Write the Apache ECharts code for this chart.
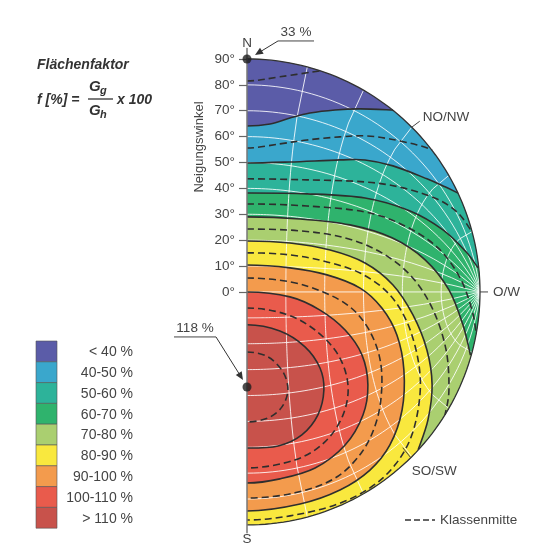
<!DOCTYPE html>
<html>
<head>
<meta charset="utf-8">
<script src="https://cdn.jsdelivr.net/npm/echarts@6/dist/echarts.min.js"></script>
<style>html,body{margin:0;padding:0;background:#fff}#main{width:540px;height:547px}</style>
</head>
<body>
<div id="main"></div>
<script>
var tiltTicks = [0, 10, 20, 30, 40, 50, 60, 70, 80, 90];
var bandLabels = ['< 40 %', '40-50 %', '50-60 %', '60-70 %', '70-80 %', '80-90 %', '90-100 %', '100-110 %', '> 110 %'];
var bandColors = ['#5b5ca8', '#3aa7cc', '#2db39a', '#2fb36d', '#aacf70', '#f9e83e', '#f39b4d', '#e95b4c', '#c8524b'];

// contour lines, [towards O/W, towards N (+) / S (-)] in degrees of tilt
var dash35 = [[0, 81.5], [12.7, 83.1], [28.2, 85.4]];
var line40 = [[0, 64.1], [8.9, 64.9], [16.6, 67.2], [24.3, 69.1], [34.0, 70.3], [43.7, 70.7], [56.4, 70.3]];
var dash45 = [[0, 55.6], [12.7, 57.2], [23.2, 58.7], [35.9, 59.9], [45.6, 60.3], [55.2, 59.1], [65.7, 56.8], [71.5, 54.9]];
var line50 = [[0, 49.8], [16.6, 50.2], [35.9, 51.0], [45.6, 51.0], [56.4, 48.7], [69.5, 43.7], [76.5, 40.6], [81.5, 38.2]];
var dash55 = [[0, 43.7], [23.2, 43.3], [45.6, 42.5], [60.3, 40.2], [73.4, 35.9], [81.5, 30.5], [86.9, 23.2]];
var line60 = [[0, 38.2], [23.2, 37.9], [45.6, 36.3], [63.0, 31.3], [75.7, 24.0], [84.6, 15.5], [89.2, 9.3]];
var dash65 = [[0, 34.0], [23.2, 33.2], [45.6, 30.9], [61.0, 25.5], [73.8, 17.0], [82.3, 5.4], [86.9, -7.0], [88.5, -15.8]];
var line70 = [[0, 29.0], [20.5, 28.2], [39.8, 25.9], [56.0, 20.9], [68.8, 12.4], [78.0, 0.8], [83.4, -12.7], [86.3, -24.4]];
var dash75 = [[0, 24.3], [20.5, 23.6], [37.9, 20.9], [52.1, 15.1], [63.7, 5.8], [71.9, -7.0], [76.9, -22.4], [78.0, -37.9], [76.5, -47.5]];
var line80 = [[0, 19.7], [16.6, 18.9], [32.1, 16.2], [45.6, 11.2], [56.4, 2.7], [64.1, -8.9], [69.5, -22.4], [71.5, -35.9], [69.9, -49.4], [66.1, -61.0]];
var dash85 = [[0, 15.1], [16.6, 14.3], [30.9, 11.6], [43.7, 7.3], [54.5, -0.4], [61.8, -11.6], [66.1, -26.3], [66.8, -39.8], [63.7, -55.2], [57.2, -66.8], [47.5, -75.7], [34.0, -82.3], [16.6, -86.5], [0, -88.1]];
var line90 = [[0, 10.4], [16.6, 9.3], [30.9, 6.6], [43.7, 1.5], [52.1, -6.2], [57.9, -16.6], [60.6, -30.1], [59.9, -45.6], [55.2, -59.1], [47.5, -68.8], [35.9, -76.5], [20.5, -81.9], [0, -84.6]];
var dash95 = [[0, 5.4], [16.6, 3.9], [29.4, 0], [39.8, -5.8], [46.7, -13.9], [51.0, -24.3], [52.1, -35.9], [50.2, -49.4], [44.4, -61.8], [34.0, -71.9], [18.5, -77.6], [0, -79.6]];
var line100 = [[0, 0], [16.6, -1.9], [28.2, -7.0], [37.9, -14.7], [44.4, -24.3], [46.7, -35.9], [44.8, -47.5], [37.9, -59.1], [26.3, -68.0], [12.7, -72.2], [0, -73.8]];
var dash105 = [[0, -6.2], [14.7, -8.5], [26.3, -14.7], [35.2, -24.3], [39.0, -35.9], [37.1, -47.5], [30.1, -57.9], [18.5, -64.9], [0, -68.0]];
var line110 = [[0, -12.7], [12.7, -15.1], [22.4, -21.2], [28.2, -29.4], [29.7, -37.9], [27.4, -47.5], [21.2, -55.2], [12.0, -59.5], [0, -60.3]];
var dash115 = [[0, -23.2], [8.1, -25.1], [13.9, -30.9], [15.8, -37.9], [13.5, -44.4], [8.1, -48.7], [0, -50.2]];

var solidLines = [line40, line50, line60, line70, line80, line90, line100, line110];
var dashedLines = [dash35, dash45, dash55, dash65, dash75, dash85, dash95, dash105, dash115];

var peakPoints = [[0, 90], [0, -36.7]];
var peakLabels = ['33 %', '118 %'];

var compassNames = ['N', 'NO/NW', 'O/W', 'SO/SW', 'S'];
var compassAzimuths = [0, 45, 90, 135, 180];

// white net: lines from the tilt ticks meeting at O/W, and circles round O/W
var meridianTilts = [10, 20, 30, 40, 50, 60, 70, 80];
var parallelAzimuths = [15, 30, 45, 60, 75];

var FONT = '"Liberation Sans", Arial, sans-serif';
var D = Math.PI / 180;
var chart = echarts.init(document.getElementById('main'));

function center(api) { return api.coord([0, 0]); }
function radius(api) { return api.coord([90, 0])[0] - api.coord([0, 0])[0]; }

function arcTo(api, a0, a1) {
  var c = center(api), r = radius(api), d = '';
  var n = Math.max(2, Math.ceil(Math.abs(a1 - a0) / (1.5 * D)));
  for (var i = 0; i <= n; i++) {
    var a = a0 + (a1 - a0) * i / n;
    d += 'L' + (c[0] + r * Math.cos(a)).toFixed(2) + ' ' + (c[1] + r * Math.sin(a)).toFixed(2);
  }
  return d;
}

function curvePath(pts, api) {
  var P = pts.map(function (p) { return api.coord(p); });
  var n = P.length;
  var d = 'M' + P[0][0].toFixed(2) + ' ' + P[0][1].toFixed(2);
  for (var i = 0; i < n - 1; i++) {
    var a = i > 0 ? P[i - 1] : (pts[0][0] === 0 ? [2 * P[0][0] - P[1][0], P[1][1]] : P[0]);
    var b = P[i], c = P[i + 1];
    var e = i < n - 2 ? P[i + 2] : (pts[n - 1][0] === 0 ? [2 * P[n - 1][0] - P[n - 2][0], P[n - 2][1]] : P[n - 1]);
    d += 'C' + (b[0] + (c[0] - a[0]) / 6).toFixed(2) + ' ' + (b[1] + (c[1] - a[1]) / 6).toFixed(2) + ' ' +
      (c[0] - (e[0] - b[0]) / 6).toFixed(2) + ' ' + (c[1] - (e[1] - b[1]) / 6).toFixed(2) + ' ' +
      c[0].toFixed(2) + ' ' + c[1].toFixed(2);
  }
  return d;
}

function discItem(params, api) {
  var c = center(api), r = radius(api);
  var d = 'M' + c[0] + ' ' + (c[1] - r) + arcTo(api, -Math.PI / 2, Math.PI / 2);
  if (api.value(2) === 0) {
    return { type: 'path', shape: { pathData: d + 'Z' }, style: { fill: bandColors[0] } };
  }
  return { type: 'path', shape: { pathData: d }, style: { fill: 'none', stroke: '#333', lineWidth: 1.3 } };
}

function bandItem(params, api) {
  var i = api.value(2);
  var pts = solidLines[i];
  var d = curvePath(pts, api);
  var last = pts[pts.length - 1];
  if (last[0] > 0) {
    var c = center(api), p = api.coord(last);
    d += arcTo(api, Math.atan2(p[1] - c[1], p[0] - c[0]), Math.PI / 2);
  }
  return { type: 'path', shape: { pathData: d + 'Z' }, style: { fill: bandColors[i + 1] } };
}

function lineItem(params, api) {
  var dashed = api.value(3) === 1;
  var pts = dashed ? dashedLines[api.value(2)] : solidLines[api.value(2)];
  return {
    type: 'path', shape: { pathData: curvePath(pts, api) },
    style: { fill: 'none', stroke: '#2e2e2e', lineWidth: 1.6, lineDash: dashed ? [7, 4] : null }
  };
}

function netItem(params, api) {
  var kind = api.value(2), ang = api.value(3), sign = api.value(4), pts = [], a, b;
  if (kind === 0) {
    for (a = 0; a <= 90; a += 2) {
      b = Math.atan(Math.tan(ang * D) / Math.cos(a * D)) / D;
      pts.push(api.coord([b * Math.sin(a * D), sign * b * Math.cos(a * D)]));
    }
  } else if (kind === 1) {
    for (a = ang; a <= 180 - ang + 0.01; a += 1) {
      b = Math.asin(Math.min(1, Math.sin(ang * D) / Math.sin(a * D))) / D;
      pts.push(api.coord([b * Math.sin(a * D), b * Math.cos(a * D)]));
    }
  } else {
    pts = [api.coord([0, 0]), api.coord([90, 0])];
  }
  return { type: 'polyline', shape: { points: pts }, style: { fill: 'none', stroke: 'rgba(255,255,255,0.85)', lineWidth: 1 } };
}

function arrow(from, to) {
  var dx = to[0] - from[0], dy = to[1] - from[1], l = Math.sqrt(dx * dx + dy * dy);
  var ux = dx / l, uy = dy / l;
  return [
    { type: 'line', shape: { x1: from[0], y1: from[1], x2: to[0] - ux * 5, y2: to[1] - uy * 5 }, style: { stroke: '#333', lineWidth: 1 } },
    { type: 'polygon', shape: { points: [to, [to[0] - ux * 8 - uy * 3.5, to[1] - uy * 8 + ux * 3.5], [to[0] - ux * 8 + uy * 3.5, to[1] - uy * 8 - ux * 3.5]] }, style: { fill: '#333' } }
  ];
}

function peakNoteItem(params, api) {
  var i = params.dataIndex, p = api.coord([api.value(0), api.value(1)]);
  var u0, u1, tip, start;
  if (i === 0) {
    u0 = [p[0] + 31, p[1] - 18]; u1 = [p[0] + 67, p[1] - 18];
    start = u0; tip = [p[0] + 8, p[1] - 4];
  } else {
    u0 = [p[0] - 73, p[1] - 50]; u1 = [p[0] - 31, p[1] - 50];
    start = u1; tip = [p[0] - 4, p[1] - 7];
  }
  return {
    type: 'group',
    children: [
      { type: 'text', x: (u0[0] + u1[0]) / 2, y: u0[1] - 2, style: { text: peakLabels[i], fill: '#444', font: '13.5px ' + FONT, align: 'center', verticalAlign: 'bottom' } },
      { type: 'line', shape: { x1: u0[0], y1: u0[1], x2: u1[0], y2: u1[1] }, style: { stroke: '#444', lineWidth: 1 } }
    ].concat(arrow(start, tip))
  };
}

function compassItem(params, api) {
  var i = params.dataIndex, az = api.value(2) * D;
  var p = api.coord([90 * Math.sin(az), 90 * Math.cos(az)]);
  var font = '13.5px ' + FONT, kids = [];
  if (i === 0) {
    kids.push({ type: 'text', x: p[0], y: p[1] - 16, style: { text: compassNames[i], fill: '#444', font: font, align: 'center', verticalAlign: 'middle' } });
  } else if (i === 1) {
    kids.push({ type: 'line', shape: { x1: p[0], y1: p[1], x2: p[0] + 8, y2: p[1] - 6 }, style: { stroke: '#444', lineWidth: 1 } });
    kids.push({ type: 'text', x: p[0] + 11, y: p[1] - 10, style: { text: compassNames[i], fill: '#444', font: font, align: 'left', verticalAlign: 'middle' } });
  } else if (i === 2) {
    kids.push({ type: 'line', shape: { x1: p[0], y1: p[1], x2: p[0] + 8, y2: p[1] }, style: { stroke: '#444', lineWidth: 1 } });
    kids.push({ type: 'text', x: p[0] + 13, y: p[1], style: { text: compassNames[i], fill: '#444', font: font, align: 'left', verticalAlign: 'middle' } });
  } else if (i === 3) {
    kids.push({ type: 'line', shape: { x1: p[0] - 9, y1: p[1] - 9, x2: p[0] - 1, y2: p[1] + 1 }, style: { stroke: '#444', lineWidth: 1 } });
    kids.push({ type: 'text', x: p[0], y: p[1] + 15, style: { text: compassNames[i], fill: '#444', font: font, align: 'left', verticalAlign: 'middle' } });
  } else {
    kids.push({ type: 'text', x: p[0], y: p[1] + 14, style: { text: compassNames[i], fill: '#444', font: font, align: 'center', verticalAlign: 'middle' } });
  }
  return { type: 'group', children: kids };
}

var netData = [];
meridianTilts.forEach(function (t) { netData.push([0, 0, 0, t, 1]); netData.push([0, 0, 0, t, -1]); });
netData.push([0, 0, 2, 0, 0]);
parallelAzimuths.forEach(function (a) { netData.push([0, 0, 1, a, 0]); });

var lineData = solidLines.map(function (l, i) { return [0, 0, i, 0]; })
  .concat(dashedLines.map(function (l, i) { return [0, 0, i, 1]; }));

// legend and formula
var graphic = [];
var titleFont = 'italic bold 14px ' + FONT;
var subFont = 'italic bold 11px ' + FONT;
graphic.push({ type: 'text', x: 37, y: 65, style: { text: 'Flächenfaktor', font: titleFont, fill: '#333', verticalAlign: 'middle' } });
graphic.push({ type: 'text', x: 37, y: 100, style: { text: 'f [%] =', font: titleFont, fill: '#333', verticalAlign: 'middle' } });
graphic.push({ type: 'text', x: 89, y: 87, style: { text: 'G', font: 'italic bold 15px ' + FONT, fill: '#333', verticalAlign: 'middle' } });
graphic.push({ type: 'text', x: 100, y: 91, style: { text: 'g', font: subFont, fill: '#333', verticalAlign: 'middle' } });
graphic.push({ type: 'line', shape: { x1: 88, y1: 99, x2: 113, y2: 99 }, style: { stroke: '#333', lineWidth: 1.3 } });
graphic.push({ type: 'text', x: 89, y: 111, style: { text: 'G', font: 'italic bold 15px ' + FONT, fill: '#333', verticalAlign: 'middle' } });
graphic.push({ type: 'text', x: 100, y: 115, style: { text: 'h', font: subFont, fill: '#333', verticalAlign: 'middle' } });
graphic.push({ type: 'text', x: 117, y: 100, style: { text: 'x 100', font: titleFont, fill: '#333', verticalAlign: 'middle' } });
graphic.push({ type: 'text', x: 199, y: 147, rotation: Math.PI / 2, style: { text: 'Neigungswinkel', font: '13px ' + FONT, fill: '#444', align: 'center', verticalAlign: 'middle' } });
bandLabels.forEach(function (lab, i) {
  var h = 20.8, y = 341 + i * h;
  graphic.push({ type: 'rect', shape: { x: 36, y: y, width: 21, height: h }, style: { fill: bandColors[i], stroke: '#555', lineWidth: 0.6 } });
  graphic.push({ type: 'text', x: 133, y: y + h / 2 + 1, style: { text: lab, font: '14px ' + FONT, fill: '#444', align: 'right', verticalAlign: 'middle' } });
});
graphic.push({ type: 'line', shape: { x1: 405, y1: 520, x2: 435, y2: 520 }, style: { stroke: '#333', lineWidth: 1.6, lineDash: [6, 3] } });
graphic.push({ type: 'text', x: 440, y: 520, style: { text: 'Klassenmitte', font: '13.5px ' + FONT, fill: '#444', verticalAlign: 'middle' } });

var option = {
  animation: false,
  grid: { left: 247, top: 48.6, width: 233, height: 484.1 },
  xAxis: { type: 'value', min: 0, max: 90, show: false },
  yAxis: {
    type: 'value', min: -93, max: 94, z: 10,
    axisLine: { show: true, onZero: false, lineStyle: { color: '#777', width: 1.5 } },
    axisTick: { show: true, length: 8, customValues: tiltTicks, lineStyle: { color: '#666', width: 1.2 } },
    axisLabel: { customValues: tiltTicks, formatter: function (v) { return v + '°'; }, color: '#444', fontSize: 13.5, fontFamily: FONT, margin: 12 },
    splitLine: { show: false }
  },
  graphic: graphic,
  series: [
    { type: 'custom', z: 1, silent: true, renderItem: discItem, data: [[0, 0, 0]] },
    { type: 'custom', z: 2, silent: true, renderItem: bandItem, data: solidLines.map(function (l, i) { return [0, 0, i]; }) },
    { type: 'custom', z: 3, silent: true, renderItem: netItem, data: netData },
    { type: 'custom', z: 4, silent: true, renderItem: lineItem, data: lineData },
    { type: 'custom', z: 5, silent: true, renderItem: discItem, data: [[0, 0, 1]] },
    { type: 'scatter', z: 11, silent: true, clip: false, symbolSize: 9, itemStyle: { color: '#1e1e1e' }, data: peakPoints },
    { type: 'custom', z: 12, silent: true, renderItem: peakNoteItem, data: peakPoints },
    { type: 'custom', z: 12, silent: true, renderItem: compassItem, data: compassAzimuths.map(function (a) { return [0, 0, a]; }) }
  ]
};
chart.setOption(option);
</script>
</body>
</html>
